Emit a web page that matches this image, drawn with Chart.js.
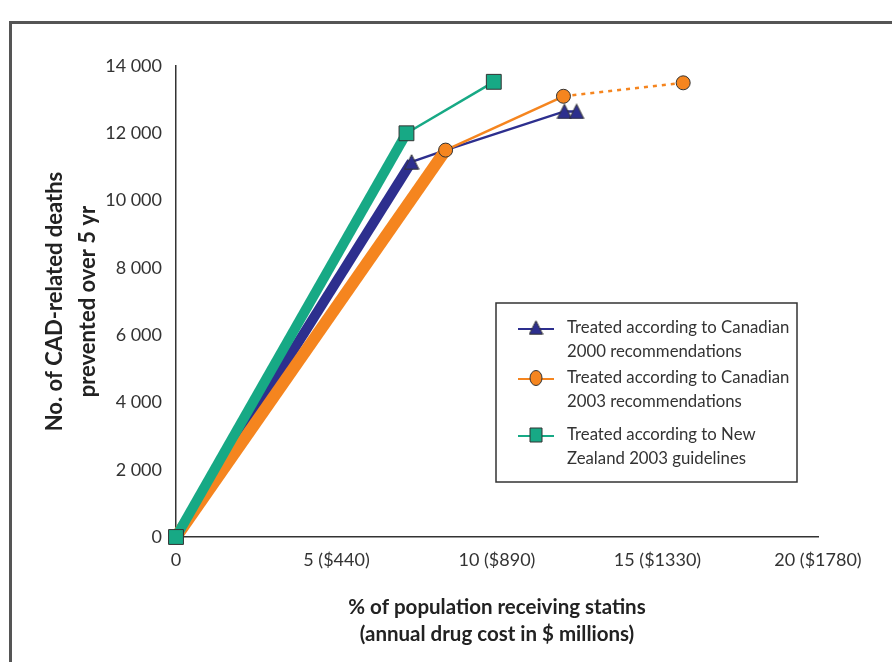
<!DOCTYPE html>
<html lang="en">
<head>
    <meta charset="UTF-8">
    <title>CAD deaths prevented by statins</title>
    <script src="https://cdn.jsdelivr.net/npm/chart.js"></script>
    <style>
        html, body {
            margin: 0;
            padding: 0;
            background: #fff;
            overflow: hidden;
        }
        .frame {
            position: absolute;
            left: 9px;
            top: 21px;
            width: 1000px;
            height: 800px;
            border-left: 3px solid #555;
            border-top: 3px solid #555;
        }
        .wrap {
            position: absolute;
            left: 0;
            top: 0;
            width: 892px;
            height: 662px;
        }
    </style>
</head>
<body>
    <div class="frame"></div>
    <div class="wrap">
        <canvas id="myChart" width="892" height="662"></canvas>
    </div>

    <script>
        // data: x = % of population, y = deaths prevented
        const can2000X = [0, 7.34, 8.4, 12.1, 12.48];
        const can2000Y = [0, 11150, 11500, 12650, 12650];
        const can2003X = [0, 8.4, 12.07, 15.8];
        const can2003Y = [0, 11500, 13100, 13500];
        const nz2003X = [0, 7.18, 9.9];
        const nz2003Y = [0, 12000, 13530];

        const seriesLabels = [
            ['Treated according to Canadian', '2000 recommendations'],
            ['Treated according to Canadian', '2003 recommendations'],
            ['Treated according to New', 'Zealand 2003 guidelines']
        ];
        const xTickValues = [0, 5, 10, 15, 20];
        const xTickLabels = ['0', '5 ($440)', '10 ($890)', '15 ($1330)', '20 ($1780)'];
        const yTickValues = [0, 2000, 4000, 6000, 8000, 10000, 12000, 14000];
        const yTickLabels = ['0', '2 000', '4 000', '6 000', '8 000', '10 000', '12 000', '14 000'];
        const xTitle = ['% of population receiving statins', '(annual drug cost in $ millions)'];
        const yTitle = ['No. of CAD-related deaths', 'prevented over 5 yr'];

        const NAVY = '#2d2f8e';
        const ORANGE = '#f5851f';
        const GREEN = '#17a985';
        const INK = '#333';
        const FONT = 'Lato, "Open Sans", sans-serif';

        // tall triangle used for the Canadian 2000 points
        function triangleImage(size) {
            const c = document.createElement('canvas');
            c.width = size;
            c.height = size;
            const g = c.getContext('2d');
            g.fillStyle = NAVY;
            g.strokeStyle = INK;
            g.lineWidth = 1;
            g.beginPath();
            g.moveTo(size / 2, 0.8);
            g.lineTo(size - 0.8, size - 0.8);
            g.lineTo(0.8, size - 0.8);
            g.closePath();
            g.fill();
            g.stroke();
            return c;
        }
        const triImg = triangleImage(16);
        const triSmall = triangleImage(15);

        // draws a marker for the legend
        function marker(ctx, style, x, y, color) {
            ctx.save();
            if (style === 'triangle') {
                ctx.drawImage(triSmall, x - 7.5, y - 8);
                ctx.restore();
                return;
            }
            ctx.fillStyle = color;
            ctx.strokeStyle = INK;
            ctx.lineWidth = 1;
            ctx.beginPath();
            if (style === 'circle') {
                ctx.ellipse(x, y, 6, 7.5, 0, 0, Math.PI * 2);
            } else {
                ctx.rect(x - 6, y - 7, 12, 14);
            }
            ctx.fill();
            ctx.stroke();
            ctx.restore();
        }

        const boxLegend = {
            id: 'boxLegend',
            afterDraw(chart) {
                const ctx = chart.ctx;
                ctx.save();
                ctx.strokeStyle = INK;
                ctx.lineWidth = 1.5;
                ctx.strokeRect(496, 303, 301, 179);
                const colors = [NAVY, ORANGE, GREEN];
                const styles = ['triangle', 'circle', 'rect'];
                const rowY = [328, 378, 435];
                ctx.font = '16.75px ' + FONT;
                ctx.textBaseline = 'middle';
                ctx.textAlign = 'left';
                for (let i = 0; i < 3; i++) {
                    ctx.strokeStyle = colors[i];
                    ctx.lineWidth = 2;
                    ctx.beginPath();
                    ctx.moveTo(518, rowY[i] + 1);
                    ctx.lineTo(554, rowY[i] + 1);
                    ctx.stroke();
                    marker(ctx, styles[i], 536, rowY[i], colors[i]);
                    ctx.fillStyle = INK;
                    ctx.fillText(seriesLabels[i][0], 567, rowY[i]);
                    ctx.fillText(seriesLabels[i][1], 567, rowY[i] + 24);
                }
                ctx.restore();
            }
        };

        function points(xs, ys) {
            return xs.map((x, i) => ({ x: x, y: ys[i] }));
        }

        function seg(thick, thin) {
            return {
                borderWidth: c => c.p0DataIndex === 0 ? thick : thin
            };
        }

        function loadChart() {
            const ctx = document.getElementById('myChart').getContext('2d');
            new Chart(ctx, {
                type: 'line',
                data: {
                    datasets: [{
                        label: seriesLabels[2].join(' '),
                        data: points(nz2003X, nz2003Y),
                        borderColor: GREEN,
                        backgroundColor: GREEN,
                        pointStyle: 'rect',
                        pointRadius: 10.5,
                        pointBorderColor: INK,
                        pointBorderWidth: 1,
                        segment: seg(10, 2.5),
                        order: 0
                    }, {
                        label: seriesLabels[1].join(' '),
                        data: points(can2003X, can2003Y),
                        borderColor: ORANGE,
                        backgroundColor: ORANGE,
                        pointStyle: 'circle',
                        pointRadius: [0, 7, 7, 7],
                        pointBorderColor: INK,
                        pointBorderWidth: 1,
                        segment: {
                            borderWidth: c => c.p0DataIndex === 0 ? 12 : 2.5,
                            borderDash: c => c.p0DataIndex === 2 ? [4, 5] : undefined
                        },
                        order: 1
                    }, {
                        label: seriesLabels[0].join(' '),
                        data: points(can2000X, can2000Y),
                        borderColor: NAVY,
                        backgroundColor: NAVY,
                        pointStyle: triImg,
                        pointRadius: [0, 8, 0, 8, 8],
                        segment: seg(10, 2.5),
                        order: 2
                    }]
                },
                options: {
                    responsive: false,
                    animation: false,
                    clip: false,
                    layout: { padding: { left: 0, right: 74, top: 66, bottom: 0 } },
                    elements: { line: { borderCapStyle: 'butt', borderJoinStyle: 'miter', tension: 0 } },
                    plugins: {
                        legend: { display: false },
                        tooltip: { enabled: false }
                    },
                    scales: {
                        x: {
                            type: 'linear',
                            min: 0,
                            max: 20,
                            afterBuildTicks: s => { s.ticks = xTickValues.map(v => ({ value: v })); },
                            afterFit: s => { s.height = 125; },
                            grid: { display: false, drawTicks: true, tickLength: 6, tickColor: INK, tickWidth: 1.5 },
                            border: { color: INK, width: 1.5 },
                            ticks: {
                                color: INK,
                                padding: 6,
                                maxRotation: 0,
                                font: { family: FONT, size: 18 },
                                callback: v => xTickLabels[xTickValues.indexOf(v)]
                            },
                            title: {
                                display: true,
                                text: xTitle,
                                color: '#222',
                                font: { family: FONT, size: 20.5, weight: 'bold', lineHeight: 1.32 },
                                padding: { top: 0, bottom: 14.5 }
                            }
                        },
                        y: {
                            min: 0,
                            max: 14000,
                            afterBuildTicks: s => { s.ticks = yTickValues.map(v => ({ value: v })); },
                            afterFit: s => { s.width = 176; },
                            grid: { display: false, drawTicks: true, tickLength: 6, tickColor: INK, tickWidth: 1.5 },
                            border: { color: INK, width: 1.5 },
                            ticks: {
                                color: INK,
                                padding: 8,
                                font: { family: FONT, size: 18 },
                                callback: v => yTickLabels[yTickValues.indexOf(v)]
                            },
                            title: {
                                display: true,
                                text: yTitle,
                                color: '#222',
                                font: { family: FONT, size: 22, weight: 'bold', lineHeight: 1.5 },
                                padding: { top: 38.5, bottom: 0 }
                            }
                        }
                    }
                },
                plugins: [boxLegend]
            });
        }

        window.onload = () => {
            loadChart();
        };
    </script>
</body>
</html>
